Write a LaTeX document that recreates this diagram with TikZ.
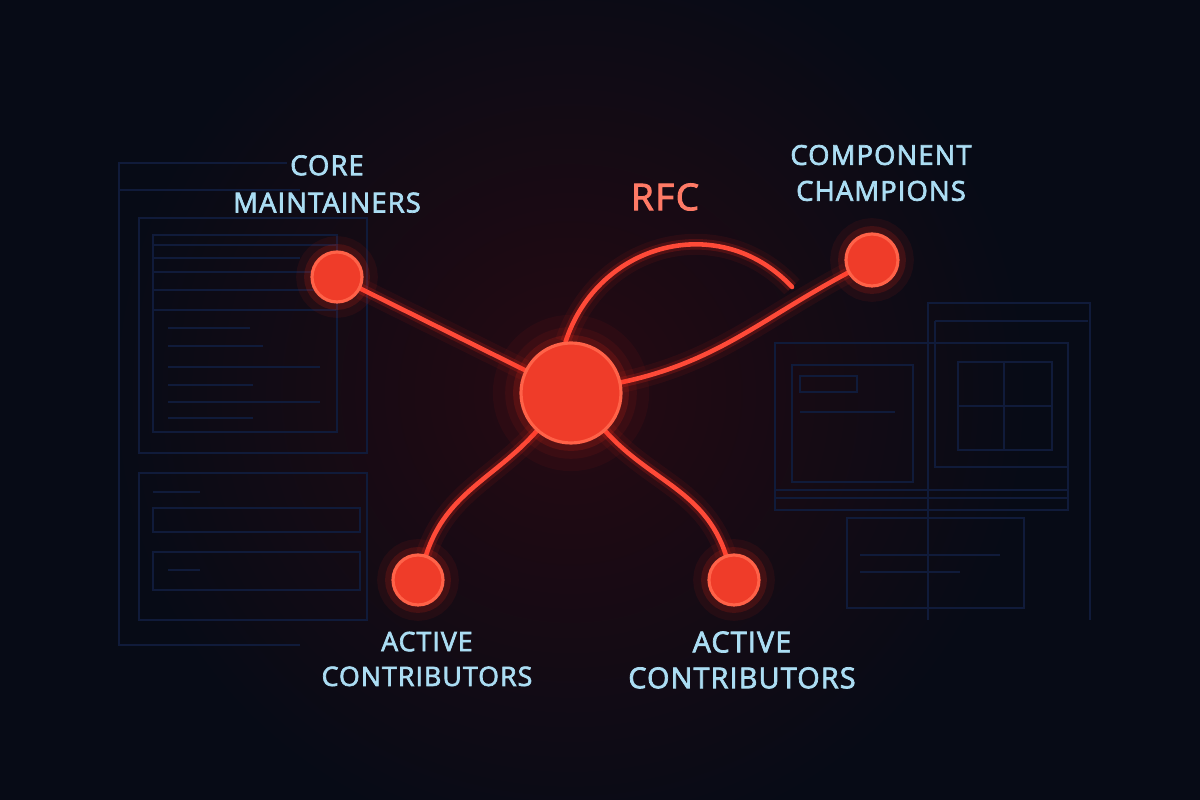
\documentclass[tikz,border=0pt]{standalone}
\usepackage{fontspec}
\setmainfont{Open Sans}[LetterSpace=4, FakeBold=2.5]
\definecolor{bgc}{HTML}{070B16}
\definecolor{bgglow}{HTML}{260A12}
\definecolor{panel}{HTML}{101B3A}
\definecolor{labelc}{HTML}{ABDDF3}
\definecolor{rfcc}{HTML}{FF7A66}
\definecolor{redline}{HTML}{FF4A38}
\definecolor{redglow}{HTML}{FF2A1A}
\definecolor{redfill}{HTML}{EF3C29}
\definecolor{rededge}{HTML}{FF6248}
\pgfdeclarelayer{back}
\pgfdeclarelayer{mid}
\pgfsetlayers{back,mid,main}
\tikzset{
  dot/.style={circle, inner sep=0pt, fill=redfill, draw=rededge, line width=0.9pt,
    preaction={draw=redglow, line width=9pt, opacity=0.07},
    preaction={draw=redglow, line width=4.5pt, opacity=0.15}},
  bigdot/.style={dot, minimum size=1.0cm,
    preaction={draw=redglow, line width=16pt, opacity=0.05}},
  smalldot/.style={dot, minimum size=0.5cm},
  glowline/.style={draw=redline, line width=1.3pt, line cap=round,
    preaction={draw=redglow, line width=6pt, opacity=0.07},
    preaction={draw=redglow, line width=3pt, opacity=0.18}},
  lbl/.style={text=labelc, align=center, inner sep=0pt},
  rfclbl/.style={text=rfcc, inner sep=0pt, font=\fontsize{10.5}{12}\selectfont},
  panelline/.style={draw=panel, line width=0.5pt},
}
\begin{document}
\begin{tikzpicture}
\useasboundingbox (0,0) rectangle (12,8);
\begin{pgfonlayer}{back}
  \fill[bgc] (0,0) rectangle (12,8);
  \shade[inner color=bgglow, outer color=bgc] (5.7,4.07) circle (4.6);
  % left panel (faint)
  \begin{scope}[panelline]
    \draw (2.87,6.37) -- (1.19,6.37) -- (1.19,1.55) -- (3.00,1.55);
    \draw (1.19,6.10) -- (3.00,6.10);
    \draw (1.39,5.82) rectangle (3.67,3.47);
    \draw (1.53,5.65) rectangle (3.37,3.68);
    \draw (1.53,5.55) -- (3.37,5.55);
    \draw (1.53,5.42) -- (3.00,5.42);
    \draw (1.53,5.28) rectangle (3.37,5.10);
    \draw (1.53,4.90) -- (3.37,4.90);
    \draw (1.68,4.72) -- (2.50,4.72);
    \draw (1.68,4.54) -- (2.63,4.54);
    \draw (1.68,4.33) -- (3.20,4.33);
    \draw (1.68,4.15) -- (2.53,4.15);
    \draw (1.68,3.98) -- (3.20,3.98);
    \draw (1.68,3.82) -- (2.53,3.82);
    \draw (1.39,3.27) rectangle (3.67,1.80);
    \draw (1.53,3.08) -- (2.00,3.08);
    \draw (1.53,2.92) rectangle (3.60,2.68);
    \draw (1.53,2.48) rectangle (3.60,2.10);
    \draw (1.68,2.30) -- (2.00,2.30);
  \end{scope}
  % right panel (faint)
  \begin{scope}[panelline]
    \draw (9.28,1.80) -- (9.28,4.97) -- (10.90,4.97) -- (10.90,1.80);
    \draw (9.35,4.79) -- (10.88,4.79);
    \draw (9.35,4.79) -- (9.35,3.33) -- (10.68,3.33) -- (10.68,4.57);
    \draw (7.75,4.57) rectangle (10.68,3.02);
    \draw (7.75,3.10) rectangle (10.68,2.90);
    \draw (7.92,4.35) rectangle (9.13,3.18);
    \draw (8.00,4.24) rectangle (8.57,4.08);
    \draw (8.00,3.88) -- (8.95,3.88);
    \draw (9.58,4.38) rectangle (10.52,3.50);
    \draw (10.04,4.38) -- (10.04,3.50);
    \draw (9.58,3.94) -- (10.52,3.94);
    \draw (8.47,2.82) rectangle (10.24,1.92);
    \draw (8.60,2.45) -- (10.00,2.45);
    \draw (8.60,2.28) -- (9.60,2.28);
  \end{scope}
\end{pgfonlayer}

% nodes
\node[bigdot]   (ctr)   at (5.71,4.07) {};
\node[smalldot] (core)  at (3.37,5.23) {};
\node[smalldot, minimum size=0.52cm] (champ) at (8.72,5.40) {};
\node[smalldot] (actL)  at (4.18,2.20) {};
\node[smalldot] (actR)  at (7.34,2.20) {};
\coordinate (arcEnd) at (7.92,5.13);

% labels
\node[lbl, font=\fontsize{7.8}{10.6}\selectfont] (coreT) at (3.27,6.16) {CORE\\MAINTAINERS};
\node[lbl, font=\fontsize{7.8}{10.2}\selectfont] (champT) at (8.81,6.27) {COMPONENT\\CHAMPIONS};
\node[rfclbl] (rfcT) at (6.65,6.03) {RFC};
\node[lbl, font=\fontsize{7.6}{9.9}\selectfont] (actLT) at (4.27,1.41) {ACTIVE\\CONTRIBUTORS};
\node[lbl, font=\fontsize{8.2}{10.2}\selectfont] (actRT) at (7.42,1.40) {ACTIVE\\CONTRIBUTORS};

% connectors
\begin{pgfonlayer}{mid}
  \draw[glowline] (core) -- (ctr);
  \draw[glowline] (ctr) to[out=12, in=208] (champ);
  \draw[glowline] (ctr.96) to[out=72, in=133, looseness=1.15] (arcEnd);
  \draw[glowline] (ctr) to[out=228, in=72] (actL);
  \draw[glowline] (ctr) to[out=-48, in=108] (actR);
\end{pgfonlayer}
\end{tikzpicture}
\end{document}
